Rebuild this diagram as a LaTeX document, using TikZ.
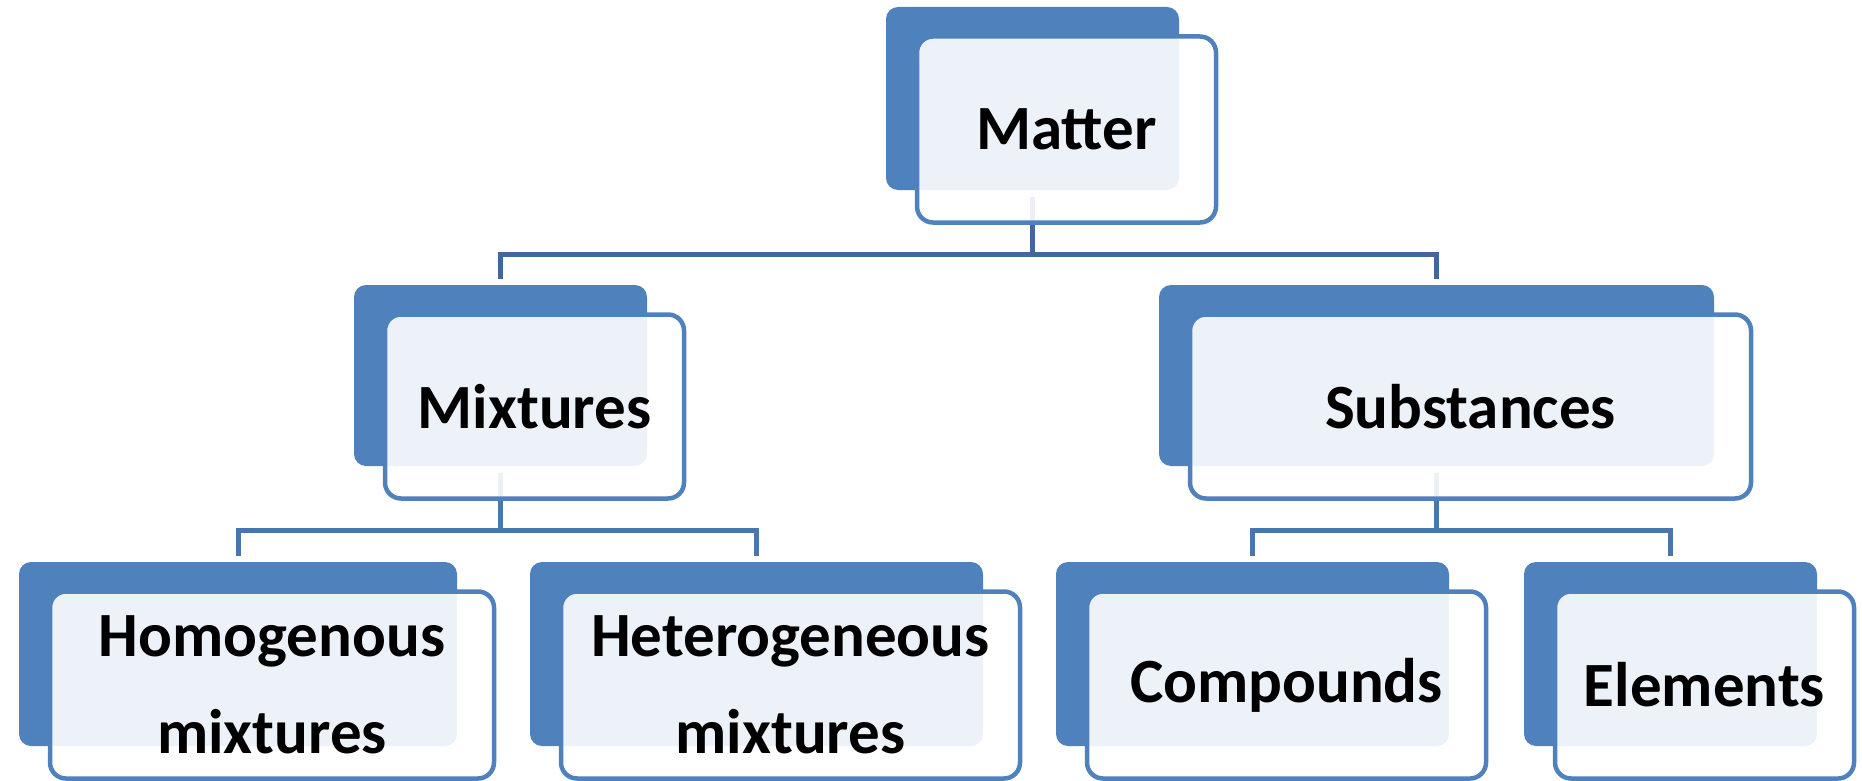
\documentclass[tikz,border=0pt]{standalone}
\usepackage{fontspec}
\setmainfont{Carlito}
\usetikzlibrary{backgrounds}
\definecolor{tbBlue}{HTML}{4F81BD}
\definecolor{tbLinkA}{HTML}{41679B}
\definecolor{tbLinkB}{HTML}{4A76AE}
\tikzset{
  tierback/.style={rectangle, rounded corners=6pt, fill=tbBlue, inner sep=0pt},
  tierfront/.style={rectangle, rounded corners=8pt, draw=tbBlue, line width=2.25pt,
    fill=white, fill opacity=0.9, text opacity=1, align=center, inner sep=0pt,
    font=\fontsize{31.5}{48.5}\selectfont\bfseries},
  tierlink/.style={line width=2.5pt}
}
\newcommand{\tierbox}[6]{% name x y w h text
  \node[tierback, minimum width={#4*0.5pt}, minimum height={#5*0.5pt}] (b#1) at (#2,#3) {};
  \node[tierfront, minimum width={(#4+6)*0.5pt}, minimum height={(#5+3)*0.5pt}]
    (#1) at ([shift={(34,31)}]b#1.center) {#6};
}
\begin{document}
\begin{tikzpicture}[x=0.5pt, y=-0.5pt]
  \useasboundingbox (0,0) rectangle (1862,781);

  % top
  \tierbox{mat}{1032.5}{98.5}{293}{183}{Matter}
  % second tier
  \tierbox{mix}{500.5}{375.5}{293}{181}{Mixtures}
  \tierbox{sub}{1436.5}{375.5}{555}{181}{Substances}
  % third tier
  \tierbox{hom}{238}{654}{438}{184}{Homogenous\\mixtures}
  \tierbox{het}{756.5}{654}{453}{184}{Heterogeneous\\mixtures}
  \tierbox{com}{1252.5}{654}{393}{184}{Compounds}
  \tierbox{ele}{1670.5}{654}{293}{184}{Elements}

  % elbow connectors, behind the boxes
  \begin{scope}[on background layer]
    \foreach \kid/\up/\c in {mix/mat/tbLinkA, sub/mat/tbLinkA,
                             hom/mix/tbLinkB, het/mix/tbLinkB,
                             com/sub/tbLinkB, ele/sub/tbLinkB}
      \draw[tierlink, draw=\c] ([yshift=-3.5pt]b\up.south) -- ++(0,57) -| ([yshift=3pt]b\kid.north);
  \end{scope}
\end{tikzpicture}
\end{document}
